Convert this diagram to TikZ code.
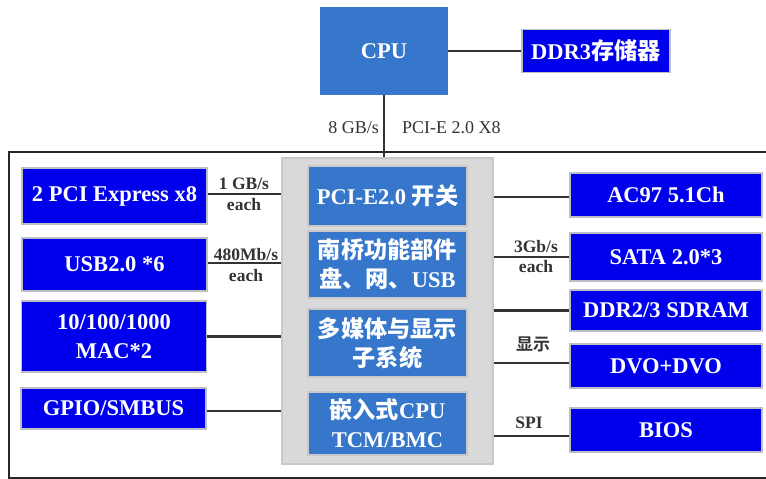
\documentclass[tikz,border=0pt]{standalone}
\usepackage{fontspec}
\setmainfont{Liberation Serif}
\newfontfamily\cjk[Scale=1.03]{Noto Sans CJK SC Bold}
\newcommand\zh[1]{{\cjk #1}}
\definecolor{lblue}{RGB}{54,119,204}
\definecolor{dblue}{RGB}{0,0,236}
\definecolor{gfill}{RGB}{217,217,217}
\definecolor{gline}{RGB}{200,200,200}
\definecolor{bline}{RGB}{190,190,200}
\definecolor{ink}{RGB}{51,51,51}
\tikzset{
  boxtext/.style={text=white, font=\bfseries\fontsize{22.5}{29}\selectfont, align=center, inner sep=0pt},
  outbox/.style={boxtext, fill=dblue, draw=bline, line width=1.2pt},
  inbox/.style={boxtext, fill=lblue, draw=gline, line width=1.2pt},
  cpubox/.style={boxtext, fill=lblue},
  graybox/.style={fill=gfill, draw=gline, line width=1.5pt, inner sep=0pt},
  conn/.style={draw=ink, line width=2.2pt},
  lbl/.style={text=ink, font=\bfseries\fontsize{17.5}{20}\selectfont, inner sep=0pt},
  rlbl/.style={text=ink, font=\fontsize{18}{20}\selectfont, inner sep=0pt},
}
\begin{document}
\begin{tikzpicture}[x=1pt,y=-1pt]
\useasboundingbox (0,0) rectangle (766,479);
% outer frame
\draw[line width=1.4pt, black!85] (768,152) -- (9,152) -- (9,478) -- (768,478);
% CPU and memory
\node[cpubox, minimum width=128, minimum height=88] (cpu) at (384,51) {CPU};
\node[outbox, minimum width=148, minimum height=43] (ddr3) at (596,51) {DDR3\zh{存储器}};
% gray block
\node[graybox, minimum width=211, minimum height=306] (gray) at (387.5,311) {};
\node[inbox, minimum width=159, minimum height=60] (sw) at (387.5,196) {PCI-E2.0 \zh{开关}};
\node[inbox, minimum width=159, minimum height=67] (sb) at (387.5,264.5) {\zh{南桥功能部件}\\\zh{盘、网、}USB};
\node[inbox, minimum width=159, minimum height=68] (mm) at (387.5,343) {\zh{多媒体与显示}\\\zh{子系统}};
\node[inbox, minimum width=159, minimum height=63] (em) at (387.5,423.5) {\zh{嵌入式}CPU\\TCM/BMC};
% left boxes
\node[outbox, minimum width=185, minimum height=56] (pcie) at (114.5,196) {2 PCI Express x8};
\node[outbox, minimum width=185, minimum height=53] (usb) at (114.5,264.5) {USB2.0 *6};
\node[outbox, minimum width=185, minimum height=71] (mac) at (114,336.5) {10/100/1000\\MAC*2};
\node[outbox, minimum width=185, minimum height=41] (gpio) at (113.5,408.5) {GPIO/SMBUS};
% right boxes
\node[outbox, minimum width=192, minimum height=44] (ac97) at (666,195) {AC97 5.1Ch};
\node[outbox, minimum width=192, minimum height=48] (sata) at (666,257) {SATA 2.0*3};
\node[outbox, minimum width=192, minimum height=41] (ddr) at (666,310.5) {DDR2/3 SDRAM};
\node[outbox, minimum width=192, minimum height=44] (dvo) at (666,366) {DVO+DVO};
\node[outbox, minimum width=192, minimum height=44] (bios) at (666,430) {BIOS};
% connectors
\draw[conn] (cpu.east) -- (ddr3.west);
\draw[conn] (cpu.south) -- (cpu.south |- gray.north);
\draw[conn] ([yshift=2]pcie.east) coordinate (p1) -- (p1 -| gray.west);
\draw[conn] ([yshift=1.5]usb.east) coordinate (p2) -- (p2 -| gray.west);
\draw[conn] (mac.east) -- (mac.east -| gray.west);
\draw[conn] ([yshift=-2.5]gpio.east) coordinate (p4) -- (p4 -| gray.west);
\draw[conn] ([yshift=-2]ac97.west) coordinate (q1) -- (q1 -| gray.east);
\draw[conn] (sata.west) -- (sata.west -| gray.east);
\draw[conn] (ddr.west) -- (ddr.west -| gray.east);
\draw[conn] ([yshift=3]dvo.west) coordinate (q4) -- (q4 -| gray.east);
\draw[conn] ([yshift=-6]bios.west) coordinate (q5) -- (q5 -| gray.east);
% labels
\node[rlbl, anchor=east] (l8) at (379,128) {8 GB/s};
\node[rlbl, anchor=west] (lpci) at (402,128) {PCI-E 2.0 X8};
\node[lbl] (l1a) at (244,184) {1 GB/s};
\node[lbl] (l1b) at (244,205) {each};
\node[lbl] (l2a) at (246,255) {480Mb/s};
\node[lbl] (l2b) at (246,276) {each};
\node[lbl] (l3a) at (536,247) {3Gb/s};
\node[lbl] (l3b) at (536,267) {each};
\node[lbl, font=\cjk\fontsize{16.5}{20}\selectfont] (l4) at (533,344) {显示};
\node[lbl] (l5) at (529,423) {SPI};
\end{tikzpicture}
\end{document}
